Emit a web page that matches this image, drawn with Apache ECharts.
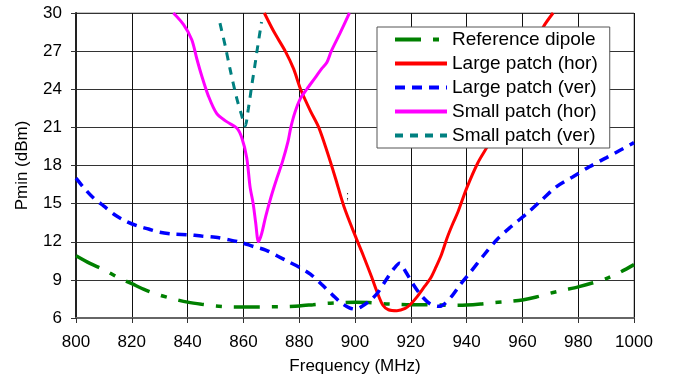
<!DOCTYPE html>
<html>
<head>
<meta charset="utf-8">
<script src="https://cdn.jsdelivr.net/npm/echarts@6/dist/echarts.min.js"></script>
<style>
    html, body { margin: 0; padding: 0; background: #fff; }
    #chart { width: 676px; height: 380px; }
</style>
</head>
<body>
<div id="chart"></div>
<script>
    // frequency (MHz), Pmin (dBm) pairs
    var dipoleData = [
        [800, 10.9], [805, 10.3], [810, 9.8], [815, 9.2], [820, 8.7], [825, 8.2],
        [830, 7.8], [835, 7.5], [840, 7.25], [845, 7.08], [850, 6.95], [855, 6.88],
        [860, 6.87], [865, 6.87], [870, 6.88], [875, 6.9], [880, 6.95], [885, 7.05],
        [890, 7.15], [895, 7.2], [900, 7.23], [905, 7.22], [910, 7.12], [915, 7.08],
        [920, 7.05], [925, 7.05], [930, 7.02], [935, 7.0], [940, 7.02], [945, 7.1],
        [950, 7.22], [955, 7.3], [960, 7.42], [965, 7.65], [970, 7.95], [975, 8.2],
        [980, 8.45], [985, 8.75], [990, 9.1], [995, 9.6], [1000, 10.2]
    ]
    var largeHorData = [
        [867.5, 30], [871, 28.5], [875, 27], [878, 25.6], [880.5, 24], [884, 22.3],
        [887, 21], [890, 19.1], [893, 17.0], [896, 14.8], [900.2, 12.4],
        [903, 10.9], [906, 9.2], [908, 8], [910, 7], [912, 6.65], [915, 6.57],
        [918, 6.75], [920, 7.1], [922, 7.6], [925, 8.5], [927, 9.1], [929, 10],
        [931, 11], [933, 12.3], [935, 13.4], [937, 14.4], [940, 16.2], [944, 18.2],
        [948, 19.7], [952, 21.4], [956, 23.1], [960, 25], [964, 27.2], [967.5, 28.9],
        [971, 30]
    ]
    var largeVerData = [
        [800, 17], [803, 16.2], [806, 15.5], [810, 14.8], [814, 14.1], [818, 13.6],
        [822, 13.25], [826, 13], [830, 12.75], [835, 12.6], [840, 12.55], [845, 12.45],
        [850, 12.35], [855, 12.15], [859, 11.95], [864, 11.6], [868, 11.35], [872, 10.9],
        [876, 10.45], [880, 10.0], [884, 9.45], [888, 8.65], [892, 7.8], [895, 7.2],
        [898, 6.8], [900, 6.7], [902, 6.85], [905, 7.3], [908, 7.95], [911, 8.95],
        [914, 9.9], [916, 10.3], [918, 9.7], [921, 8.6], [924, 7.7], [927, 7.1],
        [930, 6.92], [932, 7.1], [935, 7.8], [938, 8.7], [941, 9.5], [946, 10.9],
        [951, 12.2], [956, 13.2], [962, 14.3], [967, 15.3], [972, 16.3], [978, 17.1],
        [984, 17.9], [990, 18.6], [995, 19.2], [1000, 19.8]
    ]
    var smallHorData = [
        [834.9, 30], [838.5, 29.1], [841.5, 27.9], [843.3, 26.4], [845, 25.1],
        [847.4, 23.5], [850.4, 22.1], [854, 21.45], [857.6, 20.95], [859.4, 20.2],
        [861.2, 18.6], [862.4, 16.3], [863.5, 15], [864.4, 13.5], [865.4, 12.0],
        [866.5, 12.6], [868, 14.0], [870, 15.6], [872, 17.0], [874, 18.3],
        [876, 19.9], [877, 21], [878.5, 22.2], [880.5, 23.3], [882.7, 24],
        [885.7, 24.9], [888, 25.6], [889.9, 26.1], [891.5, 27], [894.6, 28.4],
        [898, 30]
    ]
    var smallVerData = [
        [851.6, 29.2], [853.5, 27.4], [855.2, 25.6], [857.6, 23.3], [859.3, 22.0],
        [860.6, 21.1], [861.8, 22.5], [863, 24.3], [864, 25.7], [864.8, 26.9],
        [866.5, 29.3]
    ]
    var seriesNames = ['Reference dipole', 'Large patch (hor)', 'Large patch (ver)', 'Small patch (hor)', 'Small patch (ver)']

    var font = 'Liberation Sans, Arial, sans-serif'

    function lineSeries(name, data, color, type, width) {
        return {
            name: name,
            type: 'line',
            data: data,
            symbol: 'none',
            smooth: 0.3,
            lineStyle: { color: color, width: width, type: type, cap: 'butt' },
            itemStyle: { color: color }
        }
    }

    var myChart = echarts.init(document.getElementById('chart'))
    var option = {
        animation: false,
        backgroundColor: '#fff',
        textStyle: { fontFamily: font },
        grid: {
            left: 76,
            right: 42,
            top: 13,
            bottom: 57,
            show: true,
            borderColor: '#888',
            borderWidth: 1
        },
        legend: {
            left: 377,
            top: 27,
            orient: 'vertical',
            backgroundColor: '#fff',
            borderColor: '#555',
            borderWidth: 1,
            padding: [3, 12, 3, 16],
            itemWidth: 52,
            itemHeight: 14,
            itemGap: 5,
            itemTextGap: 4,
            itemStyle: { opacity: 0 },
            lineStyle: { width: 4 },
            textStyle: { fontSize: 19, color: '#000', fontFamily: font },
            data: seriesNames
        },
        xAxis: {
            type: 'value',
            min: 800,
            max: 1000,
            interval: 20,
            name: 'Frequency (MHz)',
            nameLocation: 'middle',
            nameGap: 40,
            nameTextStyle: { fontSize: 17, color: '#000', fontFamily: font },
            axisLine: { lineStyle: { color: '#666', width: 2 } },
            axisTick: { show: true, length: 5, lineStyle: { color: '#333' } },
            axisLabel: {
                fontSize: 17, color: '#000', margin: 16, fontFamily: font,
                formatter: function (v) { return String(v) }
            },
            splitLine: { show: true, lineStyle: { color: '#111', width: 1 } }
        },
        yAxis: {
            type: 'value',
            min: 6,
            max: 30,
            interval: 3,
            name: 'Pmin (dBm)',
            nameLocation: 'middle',
            nameGap: 45,
            nameTextStyle: { fontSize: 17, color: '#000', fontFamily: font },
            axisLine: { show: true, lineStyle: { color: '#222', width: 2 } },
            axisTick: { show: true, length: 5, lineStyle: { color: '#333' } },
            axisLabel: { fontSize: 17, color: '#000', margin: 14, fontFamily: font },
            splitLine: { show: true, lineStyle: { color: '#333', width: 1 } }
        },
        graphic: [{
            type: 'text',
            left: 346,
            top: 190,
            style: { text: ';', fontSize: 11, fill: '#333', fontFamily: font }
        }],
        series: [
            lineSeries(seriesNames[0], dipoleData, '#008000', [26, 12, 6, 12], 3.5),
            lineSeries(seriesNames[1], largeHorData, '#ff0000', 'solid', 3),
            lineSeries(seriesNames[2], largeVerData, '#0000ff', [10, 7], 3.5),
            lineSeries(seriesNames[3], smallHorData, '#ff00ff', 'solid', 3),
            lineSeries(seriesNames[4], smallVerData, '#008080', [8, 7], 3)
        ]
    }
    myChart.setOption(option)
</script>
</body>
</html>
